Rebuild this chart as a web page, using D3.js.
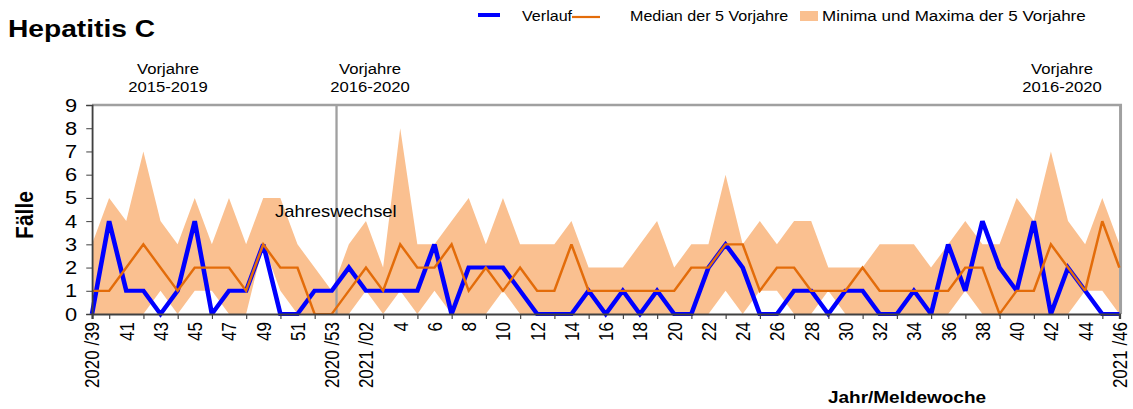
<!DOCTYPE html>
<html>
<head>
<meta charset="utf-8">
<script src="https://cdn.jsdelivr.net/npm/d3@7"></script>
<style>
  html, body { margin: 0; padding: 0; background: #fff; }
  svg { display: block; font-family: "Liberation Sans", Arial, sans-serif; }
</style>
</head>
<body>
<script>
// DATA

const weeks = [
  "2020/39","2020/40","2020/41","2020/42","2020/43","2020/44","2020/45","2020/46",
  "2020/47","2020/48","2020/49","2020/50","2020/51","2020/52","2020/53",
  "2021/01","2021/02","2021/03","2021/04","2021/05","2021/06","2021/07","2021/08",
  "2021/09","2021/10","2021/11","2021/12","2021/13","2021/14","2021/15","2021/16",
  "2021/17","2021/18","2021/19","2021/20","2021/21","2021/22","2021/23","2021/24",
  "2021/25","2021/26","2021/27","2021/28","2021/29","2021/30","2021/31","2021/32",
  "2021/33","2021/34","2021/35","2021/36","2021/37","2021/38","2021/39","2021/40",
  "2021/41","2021/42","2021/43","2021/44","2021/45","2021/46"
];

const verlauf = [
  0,4,1,1,0,1,4,0,1,1,3,0,0,1,1,
  2,1,1,1,1,3,0,2,2,2,1,0,0,0,1,
  0,1,0,1,0,0,2,3,2,0,0,1,1,0,1,
  1,0,0,1,0,3,1,4,2,1,4,0,2,1,0,0
];

const median = [
  1,1,2,3,2,1,2,2,2,1,3,2,2,0,0,
  1,2,1,3,2,2,3,1,2,1,2,1,1,3,1,
  1,1,1,1,1,2,2,3,3,1,2,2,1,1,1,
  2,1,1,1,1,1,2,2,0,1,1,3,2,1,4,2
];

const minima = [
  0,0,0,0,1,0,1,1,0,0,3,1,0,0,0,
  0,1,0,1,0,1,0,0,0,1,0,0,0,0,0,
  0,0,0,0,0,0,0,1,0,1,1,0,0,1,0,
  0,0,0,0,0,0,1,0,0,0,0,0,0,1,1,0
];

const maxima = [
  3,5,4,7,4,3,5,3,5,3,5,5,3,2,1,
  3,4,2,8,3,3,4,5,3,5,3,3,3,4,2,
  2,2,3,4,2,3,3,6,3,4,3,4,4,2,2,
  2,3,3,3,2,3,4,3,3,5,4,7,4,3,5,3
];

// every second week carries a label
const tickLabels = [
  "2020 /39","41","43","45","47","49","51","2020 /53",
  "2021 /02","4","6","8","10","12","14","16","18","20","22","24",
  "26","28","30","32","34","36","38","40","42","44","2021 /46"
];

const yTicks = [0,1,2,3,4,5,6,7,8,9];

// MAKE THE CHART

const K = 1.15;   // the reference is stretched sideways
const W = 1133;
const H = 409;
const VW = W / K;

const blue = "#0000ff";
const orange = "#e36c0a";
const band = "#fac090";
const frame = "#a0a0a0";

const svg = d3.select("body")
  .append("svg")
  .attr("width", W)
  .attr("height", H)
  .attr("viewBox", `0 0 ${VW} ${H}`)
  .attr("preserveAspectRatio", "none");

const xScale = d3.scalePoint().domain(weeks).range([92 / K, 1119.4 / K]);
const yScale = d3.scaleLinear().domain([0, 9]).range([314, 105]);

const idx = d3.range(weeks.length);
const px = i => xScale(weeks[i]);

// min/max band
svg.append("path")
  .datum(idx)
  .attr("fill", band)
  .attr("d", d3.area()
    .x(px)
    .y0(i => yScale(minima[i]))
    .y1(i => yScale(maxima[i])));

// frame (top, right) and year change line
const xL = xScale.range()[0];
const xR = xScale.range()[1] + 1;
svg.append("path")
  .attr("d", `M${xL},${yScale(9)}H${xR}V${yScale(0)}`)
  .attr("fill", "none")
  .attr("stroke", frame)
  .attr("stroke-width", 2.6);

const xYear = xScale("2020/53") + 0.28 * xScale.step();
svg.append("line")
  .attr("x1", xYear).attr("x2", xYear)
  .attr("y1", yScale(9)).attr("y2", yScale(0))
  .attr("stroke", frame)
  .attr("stroke-width", 2);

svg.append("text")
  .text("Jahreswechsel")
  .attr("x", 275 / K)
  .attr("y", 217)
  .style("font-size", "16px");

// lines
svg.append("path")
  .datum(idx)
  .attr("fill", "none")
  .attr("stroke", blue)
  .attr("stroke-width", 4)
  .attr("stroke-linejoin", "miter")
  .attr("stroke-miterlimit", 2.5)
  .attr("d", d3.line().x(px).y(i => yScale(verlauf[i])));

svg.append("path")
  .datum(idx)
  .attr("fill", "none")
  .attr("stroke", orange)
  .attr("stroke-width", 2.2)
  .attr("stroke-miterlimit", 2.5)
  .attr("d", d3.line().x(px).y(i => yScale(median[i])));

// axes
const yAxis = d3.axisLeft(yScale)
  .tickValues(yTicks)
  .tickFormat(d3.format("d"))
  .tickSize(5)
  .tickPadding(8);

const gy = svg.append("g")
  .attr("transform", `translate(${xL},0)`)
  .call(yAxis);
gy.select(".domain").attr("stroke", "#404040").attr("stroke-width", 1.6);
gy.selectAll(".tick line").attr("stroke", "#404040");
gy.selectAll(".tick text")
  .attr("fill", "#000")
  .style("font-size", "19px")
  .style("font-family", "'Liberation Sans', Arial, sans-serif");

const tickWeeks = weeks.filter((d, i) => i % 2 === 1).concat([weeks[weeks.length - 1]]);
const labelWeeks = weeks.filter((d, i) => i % 2 === 0);

const gx = svg.append("g")
  .attr("transform", `translate(0,${yScale(0)})`)
  .call(d3.axisBottom(xScale).tickValues(tickWeeks).tickFormat("").tickSizeOuter(0).tickSize(5));
gx.select(".domain").attr("stroke", "#404040").attr("stroke-width", 2);
gx.selectAll(".tick line").attr("stroke", "#404040");

const gxl = svg.append("g")
  .attr("transform", `translate(0,${yScale(0)})`)
  .call(d3.axisBottom(xScale)
    .tickValues(labelWeeks)
    .tickFormat((d, i) => tickLabels[i])
    .tickSize(0));
gxl.select(".domain").remove();
gxl.selectAll(".tick text")
  .attr("fill", "#000")
  .attr("transform", "rotate(-90)")
  .attr("text-anchor", "end")
  .attr("x", -8)
  .attr("y", 0)
  .attr("dy", "0.35em")
  .style("font-size", "17px")
  .style("font-family", "'Liberation Sans', Arial, sans-serif");

// titles
svg.append("text")
  .text("Hepatitis C")
  .attr("x", 8 / K)
  .attr("y", 37)
  .style("font-size", "24.5px")
  .style("font-weight", "bold");

svg.append("text")
  .text("Fälle")
  .attr("transform", `translate(${33 / K},215) rotate(-90)`)
  .attr("text-anchor", "middle")
  .style("font-size", "21px")
  .style("font-weight", "bold");

svg.append("text")
  .text("Jahr/Meldewoche")
  .attr("x", 907 / K)
  .attr("y", 403)
  .attr("text-anchor", "middle")
  .style("font-size", "16.5px")
  .style("font-weight", "bold");

// "Vorjahre" notes above the plot
const notes = [
  { x: 168, text: "2015-2019" },
  { x: 370, text: "2016-2020" },
  { x: 1062, text: "2016-2020" }
];
notes.forEach(n => {
  const t = svg.append("text")
    .attr("text-anchor", "middle")
    .style("font-size", "14.5px");
  t.append("tspan").attr("x", n.x / K).attr("y", 74).text("Vorjahre");
  t.append("tspan").attr("x", n.x / K).attr("y", 92).text(n.text);
});

// legend
const legend = svg.append("g");
legend.append("line")
  .attr("x1", 478 / K).attr("x2", 500 / K)
  .attr("y1", 15).attr("y2", 15)
  .attr("stroke", blue).attr("stroke-width", 4);
legend.append("text").text("Verlauf")
  .attr("x", 522 / K).attr("y", 21).style("font-size", "14px");

legend.append("line")
  .attr("x1", 572 / K).attr("x2", 600 / K)
  .attr("y1", 17).attr("y2", 17)
  .attr("stroke", orange).attr("stroke-width", 2.2);
legend.append("text").text("Median der 5 Vorjahre")
  .attr("x", 630 / K).attr("y", 21).style("font-size", "14px");

legend.append("rect")
  .attr("x", 800 / K).attr("y", 11)
  .attr("width", 18 / K).attr("height", 10)
  .attr("fill", band);
legend.append("text").text("Minima und Maxima der 5 Vorjahre")
  .attr("x", 822 / K).attr("y", 21).style("font-size", "14.8px");
</script>
</body>
</html>
